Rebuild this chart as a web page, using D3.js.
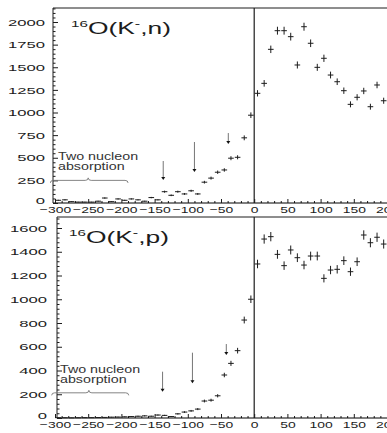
<!DOCTYPE html>
<html>
<head>
<meta charset="utf-8">
<script src="https://cdn.jsdelivr.net/npm/d3@7"></script>
<style>
  body { margin: 0; background: #fff; }
  svg { display: block; font-family: "Liberation Sans", Arial, sans-serif; }
</style>
</head>
<body>
<div id="chart"></div>
<script>
const W = 387, H = 433;

// bin centres (MeV), 10 MeV bins
const bins = [
  -295, -285, -275, -265, -255, -245, -235, -225, -215, -205,
  -195, -185, -175, -165, -155, -145, -135, -125, -115, -105,
  -95, -85, -75, -65, -55, -45, -35, -25, -15, -5,
  5, 15, 25, 35, 45, 55, 65, 75, 85, 95,
  105, 115, 125, 135, 145, 155, 165, 175, 185, 195,
];

// 16O(K-,n) counts
const countsN = [
  30, 35, 15, 10, 10, 10, 20, 55, 15, 45,
  30, 45, 35, 20, 60, 35, 125, 85, 125, 100,
  135, 100, 230, 275, 340, 365, 495, 505, 720, 970,
  1212, 1322, 1698, 1904, 1904, 1838, 1525, 1948, 1765, 1499,
  1599, 1414, 1340, 1241, 1090, 1168, 1238, 1064, 1304, 1130,
];

// 16O(K-,p) counts
const countsP = [
  2, 2, 1, 2, 3, 3, 4, 5, 7, 8,
  10, 12, 15, 18, 15, 25, 22, 12, 35, 50,
  60, 75, 143, 150, 187, 362, 460, 567, 825, 1000,
  1297, 1507, 1527, 1378, 1283, 1415, 1350, 1288, 1364, 1364,
  1176, 1246, 1252, 1325, 1232, 1316, 1541, 1476, 1522, 1465,
];

const xTicks = [-300, -250, -200, -150, -100, -50, 0, 50, 100, 150, 200];
const yTicksN = [0, 250, 500, 750, 1000, 1250, 1500, 1750, 2000];
const yTicksP = [0, 200, 400, 600, 800, 1000, 1200, 1400, 1600];

// arrows: [x, value at tail, value at head]
const arrowsN = [[-137, 464, 254], [-90, 674, 343], [-39, 773, 652]];
const arrowsP = [[-138, 390, 221], [-93, 550, 292], [-42, 623, 530]];

// brace "Two nucleon absorption": [x from, x to, x tip, value]
const braceN = [-307, -190, -250, 250];
const braceP = [-305, -189, -249, 212];

const x = d3.scaleLinear().domain([-300, 200]).range([55, 387]);

const svg = d3.select("#chart").append("svg")
  .attr("width", W).attr("height", H);

svg.append("rect").attr("width", W).attr("height", H).attr("fill", "#fff");

const ink = "#1c1c1c";
const xSx = 1.42; // the original text is stretched sideways
const ySx = 1.7;

function panel(opt) {
  const y = d3.scaleLinear().domain([0, opt.yMax]).range([opt.bottom, opt.yTop]);
  const g = svg.append("g");

  // frame (left + top), vertical line at 0
  g.append("path")
    .attr("d", `M${opt.left},${opt.bottom} V${opt.top} H${W}`)
    .attr("fill", "none").attr("stroke", ink).attr("stroke-width", 1);
  g.append("line")
    .attr("x1", x(0)).attr("x2", x(0))
    .attr("y1", opt.top).attr("y2", opt.bottom)
    .attr("stroke", ink).attr("stroke-width", 1.2);

  // x axis
  const minorX = d3.range(-300, 201, 10).filter((d) => d % 50 != 0);
  g.append("g")
    .attr("transform", `translate(0,${opt.bottom})`)
    .call(d3.axisBottom(x).tickValues(minorX).tickSize(-2).tickFormat(""))
    .call((a) => a.select(".domain").remove());
  const xa = g.append("g")
    .attr("transform", `translate(0,${opt.bottom})`)
    .call(d3.axisBottom(x).tickValues(xTicks).tickSizeInner(-4).tickSizeOuter(0)
      .tickPadding(3).tickFormat(d3.format("d")));
  xa.select(".domain").attr("d", `M${opt.left},0H${W}`);
  xa.selectAll(".tick text").attr("transform", `scale(${xSx},1)`);

  // y axis
  const minorY = d3.range(0, opt.topVal, opt.minorStep).filter((d) => d % opt.majorStep != 0);
  g.append("g")
    .attr("transform", `translate(${opt.left},0)`)
    .call(d3.axisLeft(y).tickValues(minorY).tickSize(-2.5).tickFormat(""))
    .call((a) => a.select(".domain").remove());
  const ya = g.append("g")
    .attr("transform", `translate(${opt.left},0)`)
    .call(d3.axisLeft(y).tickValues(opt.yTicks).tickSizeInner(-5).tickSizeOuter(0)
      .tickPadding((opt.left - opt.labelRight) / ySx).tickFormat(d3.format("d")));
  ya.select(".domain").remove();
  ya.selectAll(".tick text").attr("transform", `scale(${ySx},1)`);
  // ROOT puts the zero label a little low
  ya.selectAll(".tick text").filter((d) => d == 0).attr("dy", "0.1em");

  g.selectAll(".tick line").attr("stroke", ink);
  g.selectAll(".tick text")
    .attr("fill", ink)
    .attr("font-size", 9.8)
    .attr("font-family", "Liberation Sans, Arial, sans-serif");

  // data: bin width bars + sqrt(N) error bars
  const pts = g.append("g").attr("stroke", ink).attr("stroke-width", 1);
  bins.forEach((b, i) => {
    const v = opt.counts[i];
    const e = Math.sqrt(v);
    pts.append("line")
      .attr("x1", x(b - 5) + 0.5).attr("x2", x(b + 5) - 0.5)
      .attr("y1", y(v)).attr("y2", y(v));
    pts.append("line")
      .attr("x1", x(b)).attr("x2", x(b))
      .attr("y1", y(v - e)).attr("y2", y(v + e));
  });

  // arrows
  opt.arrows.forEach(([ax, v0, v1]) => {
    g.append("line")
      .attr("x1", x(ax)).attr("x2", x(ax))
      .attr("y1", y(v0)).attr("y2", y(v1) - 2)
      .attr("stroke", "#666").attr("stroke-width", 0.9);
    const hx = x(ax), hy = y(v1);
    g.append("path")
      .attr("d", `M${hx - 2},${hy - 3} L${hx + 2},${hy - 3} L${hx},${hy} Z`)
      .attr("fill", "#111");
  });

  // brace + label
  const [b0, b1, bt, bv] = opt.brace;
  const x0 = x(b0), x1 = x(b1), xt = x(bt), by = y(bv);
  g.append("path")
    .attr("d", `M${x0},${by + 2.5} Q${x0},${by} ${x0 + 3},${by} L${xt - 3},${by} ` +
      `Q${xt},${by} ${xt},${by - 2.5} Q${xt},${by} ${xt + 3},${by} L${x1 - 3},${by} ` +
      `Q${x1},${by} ${x1},${by + 2.5}`)
    .attr("fill", "none").attr("stroke", "#777").attr("stroke-width", 0.9);
  ["Two nucleon", "absorption"].forEach((t, i) => {
    g.append("text")
      .attr("transform", `translate(${opt.noteX},${by - 20 + i * 10}) scale(1.4,1)`)
      .attr("font-size", 10.2).attr("fill", "#333")
      .text(t);
  });

  // title
  const title = g.append("text")
    .attr("transform", `translate(${opt.titleX},${opt.titleY}) scale(1.6,1)`)
    .attr("fill", ink).attr("font-size", 16.5);
  title.append("tspan").attr("font-size", 9.5).attr("dy", -7).text("16");
  title.append("tspan").attr("dy", 7).text("O(K");
  title.append("tspan").attr("font-size", 10).attr("dy", -7).text("-");
  title.append("tspan").attr("dy", 7).text("," + opt.particle + ")");
}

// TOP: (K-,n)
panel({
  counts: countsN, yMax: 2000, yTicks: yTicksN, majorStep: 250, minorStep: 50, topVal: 2151,
  bottom: 203, yTop: 22, top: 8, left: 53, labelRight: 45,
  arrows: arrowsN, brace: braceN, noteX: 58,
  titleX: 71, titleY: 34, particle: "n",
});

// BOTTOM: (K-,p)
panel({
  counts: countsP, yMax: 1600, yTicks: yTicksP, majorStep: 200, minorStep: 40, topVal: 1690,
  bottom: 418, yTop: 228, top: 217, left: 57, labelRight: 47,
  arrows: arrowsP, brace: braceP, noteX: 60,
  titleX: 69, titleY: 243, particle: "p",
});
</script>
</body>
</html>
